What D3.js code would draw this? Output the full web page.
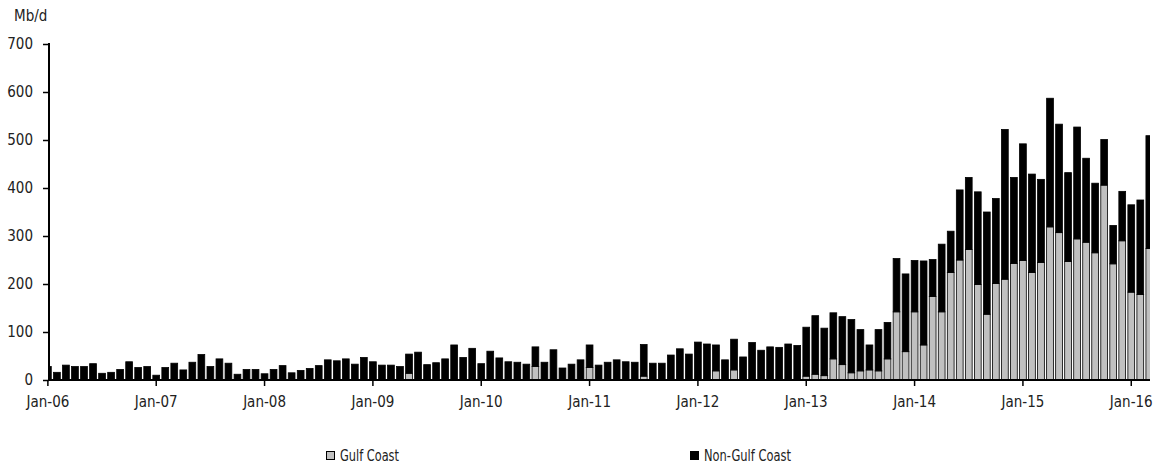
<!DOCTYPE html>
<html>
<head>
<meta charset="utf-8">
<script src="https://cdn.jsdelivr.net/npm/d3@7/dist/d3.min.js"></script>
<style>
  html, body { margin: 0; padding: 0; background: #fff; }
  svg { display: block; }
  text { font-family: "Liberation Sans Narrow", "DejaVu Sans Condensed", "Arial Narrow", sans-serif; fill: #222; }
</style>
</head>
<body>
<svg id="chart" width="1156" height="471"></svg>
<script>
// ---- Data (Mb/d), monthly Jan-06 .. Mar-16 ----
const seriesNames = ["Gulf Coast", "Non-Gulf Coast"];
const totalFlow = [
  28,16,31,28,28,34,14,16,22,38,26,28,
  10,26,35,21,37,53,28,44,35,12,22,22,
  13,22,30,15,20,24,30,42,40,44,33,47,
  38,31,31,28,54,58,32,36,44,73,47,66,
  34,60,46,38,37,33,69,37,63,25,33,42,
  73,31,37,42,38,37,74,35,35,52,65,54,
  79,75,73,42,85,48,78,62,69,68,75,72,
  110,134,108,140,132,126,105,73,105,120,253,221,
  249,248,251,283,310,396,422,392,350,378,522,422,
  492,429,418,587,533,432,527,462,410,501,322,393,
  365,375,509
];
const gulfCoast = [
  0,0,0,0,0,0,0,0,0,0,0,0,
  0,0,0,0,0,0,0,0,0,0,0,0,
  0,0,0,0,0,0,0,0,0,0,0,0,
  0,0,0,0,14,0,0,0,0,0,0,0,
  0,0,0,0,0,0,28,0,0,0,0,0,
  26,0,0,0,0,0,8,0,0,0,0,0,
  0,0,19,0,21,0,0,0,0,0,0,0,
  8,12,9,44,32,15,19,21,19,44,142,59,
  142,73,174,142,224,250,272,199,137,201,210,243,
  249,224,245,319,307,247,294,287,265,406,242,290,
  183,178,274
];
const nonGulfCoast = totalFlow.map((t, i) => t - gulfCoast[i]);
const months = d3.timeMonths(new Date(2006, 0, 1), new Date(2016, 3, 1));
const yTicks = [0, 100, 200, 300, 400, 500, 600, 700];
const xTickLabels = ["Jan-06","Jan-07","Jan-08","Jan-09","Jan-10","Jan-11","Jan-12","Jan-13","Jan-14","Jan-15","Jan-16"];

// ---- Layout ----
const svg = d3.select("#chart");
const plotLeft = 49, plotRight = 1150, plotTop = 44, plotBottom = 380;
const step = (1148.2 - 49) / (months.length - 1);

const fmt = d3.timeFormat("%b-%y");
const x = d3.scaleBand()
  .domain(months.map(fmt))
  .range([plotLeft - step / 2, 1148.2 + step / 2])
  .paddingInner(0.25)
  .paddingOuter(0);
const y = d3.scaleLinear().domain([0, 700]).range([plotBottom, plotTop]);

const rows = months.map((m, i) => ({ month: fmt(m), gulf: gulfCoast[i], nongulf: nonGulfCoast[i] }));
const stack = d3.stack().keys(["gulf", "nongulf"]);
const layers = stack(rows);
const fills = ["#c0c0c0", "#000000"];

svg.append("defs").append("clipPath").attr("id", "plotclip")
  .append("rect").attr("x", plotLeft).attr("y", 0)
  .attr("width", plotRight - plotLeft).attr("height", plotBottom);

const g = svg.append("g").attr("clip-path", "url(#plotclip)");
layers.forEach((layer, li) => {
  g.append("g").selectAll("rect")
    .data(layer.filter(d => d[1] - d[0] > 0))
    .join("rect")
    .attr("x", d => x(d.data.month))
    .attr("width", x.bandwidth())
    .attr("y", d => y(d[1]))
    .attr("height", d => y(d[0]) - y(d[1]))
    .attr("fill", fills[li])
    .attr("stroke", "#000")
    .attr("stroke-width", 0.8);
});

// Y axis
const yAxis = svg.append("g").attr("transform", `translate(${plotLeft},0)`)
  .call(d3.axisLeft(y).tickValues(yTicks).tickSize(6).tickPadding(10).tickFormat(d3.format("d")));
yAxis.select(".domain").remove();
yAxis.selectAll(".tick line").attr("stroke", "#000").attr("stroke-width", 1.5);
yAxis.selectAll(".tick text").style("font-size", "15px").attr("fill", "#222");
svg.append("line").attr("x1", plotLeft).attr("x2", plotLeft)
  .attr("y1", plotTop - 1).attr("y2", plotBottom + 1)
  .attr("stroke", "#000").attr("stroke-width", 2);

// X axis
const janMonths = months.filter(m => m.getMonth() === 0).map(fmt);
const xAxis = svg.append("g").attr("transform", `translate(0,${plotBottom})`)
  .call(d3.axisBottom(x).tickValues(janMonths).tickSize(6).tickPadding(10)
    .tickFormat((d, i) => xTickLabels[i]));
xAxis.select(".domain").remove();
xAxis.selectAll(".tick line").attr("stroke", "#000").attr("stroke-width", 1.5);
xAxis.selectAll(".tick text").style("font-size", "15px").attr("fill", "#222");
svg.append("line").attr("x1", plotLeft - 1).attr("x2", plotRight)
  .attr("y1", plotBottom).attr("y2", plotBottom)
  .attr("stroke", "#000").attr("stroke-width", 2);

// Unit label
svg.append("text").attr("x", 14).attr("y", 21).style("font-size", "15px").text("Mb/d");

// Legend
const legendPos = [326, 690];
const legendTextWidth = [59, 87];
seriesNames.forEach((name, i) => {
  const lg = svg.append("g").attr("transform", `translate(${legendPos[i]},451)`);
  lg.append("rect").attr("x", 0.5).attr("y", 0.5).attr("width", 8).attr("height", 8)
    .attr("fill", fills[i]).attr("stroke", "#000").attr("stroke-width", 1);
  lg.append("text").attr("x", 14).attr("y", 10).style("font-size", "15px")
    .attr("textLength", legendTextWidth[i]).attr("lengthAdjust", "spacingAndGlyphs")
    .text(name);
});
</script>
</body>
</html>
